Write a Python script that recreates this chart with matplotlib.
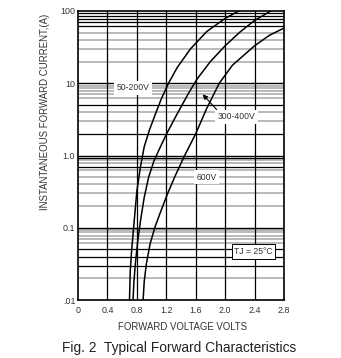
import numpy as np
import matplotlib
matplotlib.use("Agg")
import matplotlib.pyplot as plt

plt.rcParams['font.family'] = ['Liberation Sans', 'DejaVu Sans']

# forward voltage (V) vs instantaneous forward current (A)
v_50_200 = [0.70, 0.71, 0.73, 0.76, 0.80, 0.85, 0.90, 0.97, 1.05, 1.13, 1.23, 1.35, 1.53, 1.75, 2.00, 2.20]
i_50_200 = [0.01, 0.025, 0.05, 0.112, 0.32, 0.71, 1.32, 2.24, 3.7, 6.0, 10, 16.6, 30, 52, 79, 102]

v_300_400 = [0.748, 0.76, 0.78, 0.81, 0.85, 0.90, 0.96, 1.03, 1.12, 1.22, 1.35, 1.50, 1.62, 1.80, 2.00, 2.20, 2.40, 2.62]
i_300_400 = [0.01, 0.018, 0.032, 0.063, 0.126, 0.263, 0.5, 0.83, 1.32, 2.14, 3.8, 7.2, 11.5, 20, 33, 51, 74, 100]

v_600 = [0.885, 0.90, 0.93, 0.98, 1.05, 1.13, 1.22, 1.32, 1.45, 1.60, 1.75, 1.92, 2.10, 2.40, 2.60, 2.80]
i_600 = [0.01, 0.018, 0.032, 0.06, 0.105, 0.174, 0.30, 0.52, 1.0, 2.0, 4.5, 10, 17.8, 33, 46, 58]

x_ticks = [0, 0.4, 0.8, 1.2, 1.6, 2.0, 2.4, 2.8]
x_labels = ['0', '0.4', '0.8', '1.2', '1.6', '2.0', '2.4', '2.8']
y_ticks = [0.01, 0.1, 1, 10, 100]
y_labels = ['.01', '0.1', '1.0', '10', '100']

# horizontal grid inside each decade: multiplier, dark line or not
grid_mult = [9.3, 8.6, 7.8, 7.0, 6.2, 5.0, 4.0, 3.0, 2.0]
grid_dark = {
    10:   [1, 1, 1, 1, 1, 0, 0, 0, 0],
    1:    [0, 0, 0, 0, 0, 1, 0, 0, 1],
    0.1:  [1, 0, 0, 1, 0, 0, 0, 0, 0],
    0.01: [0, 0, 0, 0, 0, 1, 1, 1, 0],
}

fig = plt.figure(figsize=(3.41, 3.58), dpi=100)
ax = fig.add_axes([78 / 341, 58 / 358, 206 / 341, 289 / 358])
ax.set_yscale('log')
ax.set_xlim(0, 2.8)
ax.set_ylim(0.01, 100)

# grid
for base, flags in grid_dark.items():
    for m, dark in zip(grid_mult, flags):
        if dark:
            ax.axhline(base * m, color='black', lw=0.9, zorder=1)
        else:
            ax.axhline(base * m, color='#b4b4b4', lw=1.3, zorder=0.5)
for d in [0.1, 1, 10]:
    ax.axhline(d, color='black', lw=1.0, zorder=1)
for x in x_ticks[1:-1]:
    ax.axvline(x, color='black', lw=0.9, zorder=1)

# curves
for v, i in [(v_50_200, i_50_200), (v_300_400, i_300_400), (v_600, i_600)]:
    ax.plot(v, i, color='black', lw=1.1, zorder=3)

# labels on the curves
box = dict(boxstyle='square,pad=0.3', fc='white', ec='none')
tfont = dict(fontsize=6.2, color='#333333', ha='center', va='center', zorder=4)
ax.text(0.75, 8.6, '50-200V', bbox=box, **tfont)
ax.text(2.15, 3.44, '300-400V', bbox=box, **tfont)
ax.text(1.745, 0.50, '600V', bbox=box, **tfont)
ax.text(2.385, 0.047, 'TJ = 25°C', bbox=dict(boxstyle='square,pad=0.3', fc='white', ec='black', lw=0.7), **tfont)
ax.annotate('', xy=(1.67, 7.5), xytext=(1.91, 4.04),
            arrowprops=dict(arrowstyle='-|>', color='black', lw=0.8, mutation_scale=7), zorder=4)

for s in ax.spines.values():
    s.set_linewidth(1.2)
    s.set_zorder(5)

ax.set_xticks(x_ticks)
ax.set_xticklabels(x_labels)
ax.set_yticks(y_ticks)
ax.set_yticklabels(y_labels)
ax.minorticks_off()
ax.tick_params(length=0, labelsize=6.4, colors='#333333', pad=4)
ax.tick_params(axis='y', pad=2)

fig.text(45 / 341, 1 - 112 / 358, 'INSTANTANEOUS FORWARD CURRENT,(A)', rotation=90,
         ha='center', va='center', fontsize=6.9, color='#333333')
fig.text(183 / 341, 1 - 327 / 358, 'FORWARD VOLTAGE VOLTS', ha='center', va='center',
         fontsize=6.9, color='#333333')
fig.text(179 / 341, 1 - 348 / 358, 'Fig. 2  Typical Forward Characteristics', ha='center',
         va='center', fontsize=9.9, color='#222222')

fig.savefig('out.png', dpi=100)
